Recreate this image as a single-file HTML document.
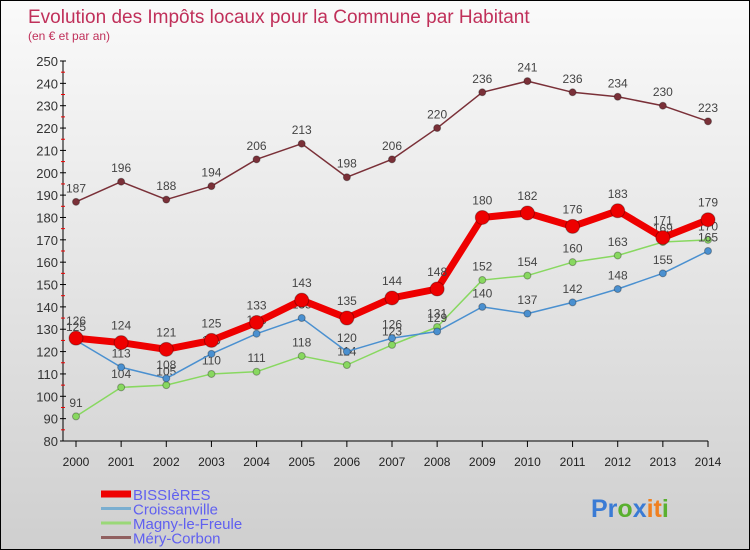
<!DOCTYPE html>
<html><head><meta charset="utf-8"><style>
body{margin:0;}
#c{width:750px;height:550px;position:relative;overflow:hidden;background:linear-gradient(#fafafa,#cfcfcf);font-family:"Liberation Sans",sans-serif;box-sizing:border-box;border:1px solid #000;}
</style></head><body>
<div id="c">
<svg id="s" width="750" height="550" style="position:absolute;left:0;top:0">
<text x="27" y="22" font-size="19" fill="#c0305a">Evolution des Impôts locaux pour la Commune par Habitant</text>
<text x="27" y="39" font-size="12" fill="#c0305a">(en € et par an)</text>
<text x="590" y="516" font-size="25" font-weight="bold"><tspan fill="#3a7bd5">Pr</tspan><tspan fill="#5ab030">o</tspan><tspan fill="#3a7bd5">x</tspan><tspan fill="#f08020">it</tspan><tspan fill="#5ab030">i</tspan></text>
</svg>
</div>
<script>
const years=[2000,2001,2002,2003,2004,2005,2006,2007,2008,2009,2010,2011,2012,2013,2014];
const bissieres=[126,124,121,125,133,143,135,144,148,180,182,176,183,171,179];
const croissanville=[125,113,108,119,128,135,120,126,129,140,137,142,148,155,165];
const magny=[91,104,105,110,111,118,114,123,131,152,154,160,163,169,170];
const mery=[187,196,188,194,206,213,198,206,220,236,241,236,234,230,223];
const yTicks=[80,90,100,110,120,130,140,150,160,170,180,190,200,210,220,230,240,250];
const seriesNames=["BISSIèRES","Croissanville","Magny-le-Freule","Méry-Corbon"];
const NS="http://www.w3.org/2000/svg";
const svg=document.getElementById('s');
const X=i=>75+i*(707-75)/14;
const Y=v=>440-(v-80)*(380/170);
function el(t,a,p){const e=document.createElementNS(NS,t);for(const k in a)e.setAttribute(k,a[k]);(p||svg).appendChild(e);return e;}
// axes
let ax=el('line',{x1:62,y1:60,x2:62,y2:440,stroke:'#000'});


let bx=el('line',{x1:62,y1:440,x2:707,y2:440,stroke:'#000'});


yTicks.forEach(v=>{
 el('line',{x1:59,y1:Y(v),x2:65,y2:Y(v),stroke:'#000'});
 if(v<250){el('line',{x1:60,y1:Y(v+5),x2:64,y2:Y(v+5),stroke:'#e00'});}
 const t=el('text',{x:57,y:Y(v)+5,'text-anchor':'end','font-size':13,fill:'#333'});t.textContent=v;
 
 
});
years.forEach((yr,i)=>{
 el('line',{x1:X(i),y1:440,x2:X(i),y2:446,stroke:'#000'});
 const t=el('text',{x:X(i),y:465,'text-anchor':'middle','font-size':12,fill:'#222'});t.textContent=yr;
 
 
});
function series(data,color,w,r,name){
 const g=el('g',{});
 
 
 el('polyline',{points:data.map((v,i)=>X(i)+','+Y(v)).join(' '),fill:'none',stroke:color,'stroke-width':w,'stroke-linejoin':'round'},g);
 data.forEach((v,i)=>{
  const c=el('circle',{cx:X(i),cy:Y(v),r:r,fill:color,stroke:'rgba(0,0,0,0.3)','stroke-width':1},g);
  
  
  const t=el('text',{x:X(i),y:Y(v)-(r+6),'text-anchor':'middle','font-size':12,fill:'#444'},g);t.textContent=v;
  
  
 });
}
series(mery,'#7a3038',1.5,3.5,'mery-corbon-series');
series(magny,'#88d860',1.5,3.5,'magny-le-freule-series');
series(croissanville,'#4a90d0',1.5,3.5,'croissanville-series');
series(bissieres,'#ee0000',7,7,'bissieres-series');
const lc=['#ee0000','#7aaed0','#9ad878','#906060'];const lw=[7,3,3,3];
seriesNames.forEach((n,i)=>{
 const y=493+i*14.5;
 const l=el('line',{x1:100,y1:y,x2:130,y2:y,stroke:lc[i],'stroke-width':lw[i]});
 
 
 const t=el('text',{x:132,y:y+6,'font-size':15,fill:'#6060f0'});t.textContent=n;
 
 
});
</script>
</body></html>
